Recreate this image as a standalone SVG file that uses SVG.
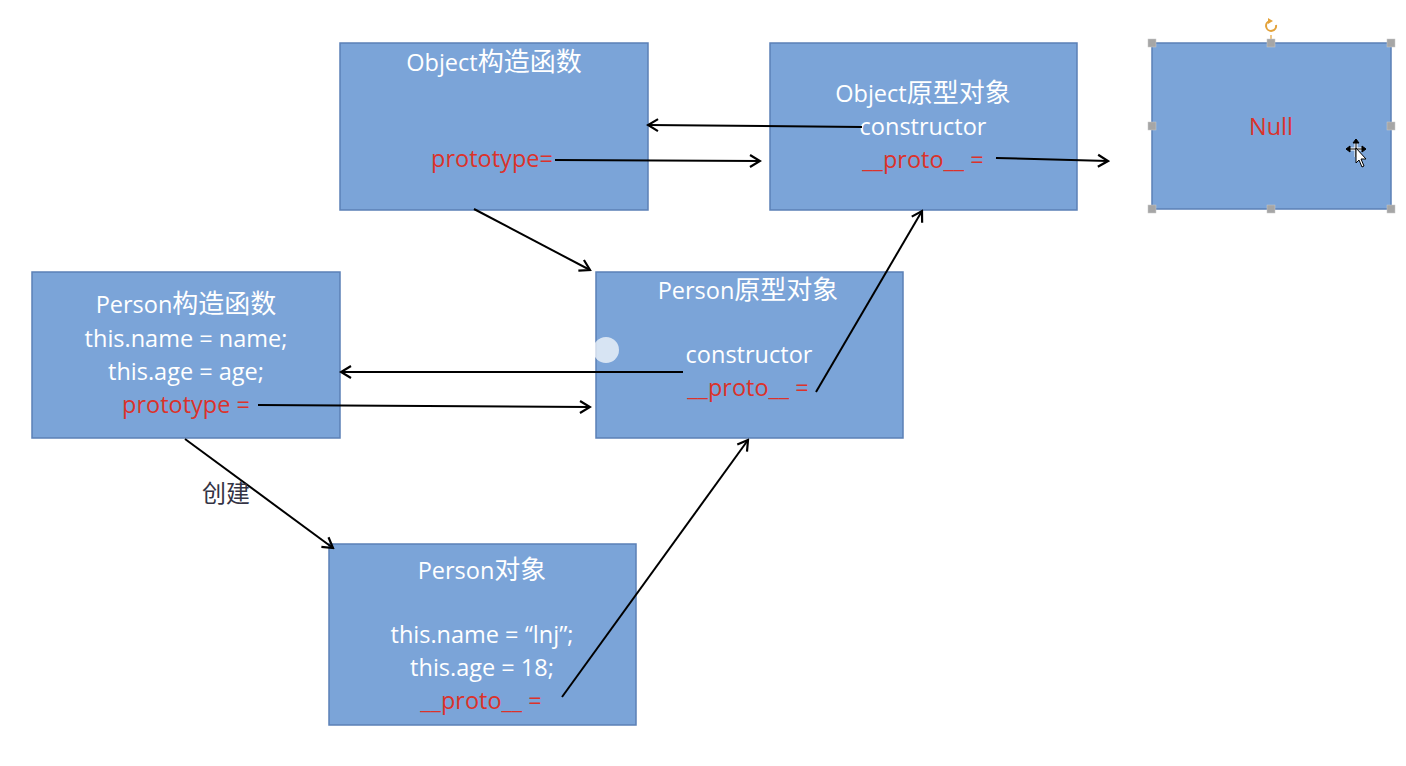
<svg xmlns="http://www.w3.org/2000/svg" width="1406" height="766" viewBox="0 0 1406 766">
  <style>
    .box { fill: #7BA4D8; stroke: #5B80B6; stroke-width: 1.5; }
    .t { font-family: "Open Sans", "Noto Sans CJK SC", sans-serif; font-size: 23.5px; fill: #FFFFFF; text-anchor: middle; }
    .r { fill: #DC322A; }
    .cjk { font-family: "Noto Sans CJK SC", sans-serif; font-size: 26px; }
    .conn { stroke: #000000; stroke-width: 2; fill: none; marker-end: url(#arr); }
    .handle { fill: #A6A6A6; stroke: #C8C8C8; stroke-width: 0.5; }
  </style>
  <defs>
    <marker id="arr" markerUnits="userSpaceOnUse" markerWidth="16" markerHeight="16" viewBox="0 0 16 16" refX="14" refY="8" orient="auto">
      <path d="M4,2 L14,8 L4,14" fill="none" stroke="#000" stroke-width="2.2"/>
    </marker>
  </defs>
  <rect width="1406" height="766" fill="#FFFFFF"/>

  <g id="object-ctor">
    <rect class="box" x="340" y="43" width="308" height="167"/>
    <text class="t" x="494" y="71">Object<tspan class="cjk">构造函数</tspan></text>
    <text class="t r" x="492" y="167">prototype=</text>
  </g>

  <g id="object-proto">
    <rect class="box" x="770" y="43" width="307" height="167"/>
    <text class="t" x="923" y="102">Object<tspan class="cjk">原型对象</tspan></text>
    <text class="t" x="923" y="135">constructor</text>
    <text class="t r" x="923" y="168">__proto__ =</text>
  </g>

  <g id="null">
    <rect class="box" x="1152" y="43" width="239" height="166"/>
    <text class="t r" x="1271" y="135">Null</text>
    <line x1="1271" y1="35" x2="1271" y2="43" stroke="#E3A23A" stroke-width="1.2"/>
    <path d="M1276,25 A5,5 0 1 1 1270,21" fill="none" stroke="#E3A23A" stroke-width="2"/>
    <path d="M1268,18 L1273,21 L1268,24 Z" fill="#E3A23A"/>
    <rect class="handle" x="1148" y="39" width="8" height="8"/>
    <rect class="handle" x="1267" y="39" width="8" height="8"/>
    <rect class="handle" x="1387" y="39" width="8" height="8"/>
    <rect class="handle" x="1148" y="122" width="8" height="8"/>
    <rect class="handle" x="1387" y="122" width="8" height="8"/>
    <rect class="handle" x="1148" y="205" width="8" height="8"/>
    <rect class="handle" x="1267" y="205" width="8" height="8"/>
    <rect class="handle" x="1387" y="205" width="8" height="8"/>
    <g id="cursor" stroke="#000" stroke-width="1">
      <path d="M1348,149 L1364,149 M1356,141 L1356,157" fill="none" stroke="#fff" stroke-width="3"/>
      <path d="M1348,149 L1364,149 M1356,141 L1356,157" fill="none"/>
      <path d="M1346,149 L1350,146 L1350,152 Z M1366,149 L1362,146 L1362,152 Z M1356,139 L1353,143 L1359,143 Z" fill="#000"/>
      <path d="M1356,148 L1356,163 L1359,160 L1362,167 L1364,166 L1361,159 L1366,159 Z" fill="#fff" stroke="#000"/>
    </g>
  </g>

  <g id="person-ctor">
    <rect class="box" x="32" y="272" width="308" height="166"/>
    <text class="t" x="186" y="313">Person<tspan class="cjk">构造函数</tspan></text>
    <text class="t" x="186" y="347">this.name = name;</text>
    <text class="t" x="186" y="380">this.age = age;</text>
    <text class="t r" x="186" y="413">prototype =</text>
  </g>

  <g id="person-proto">
    <rect class="box" x="596" y="272" width="307" height="166"/>
    <text class="t" x="748" y="299">Person<tspan class="cjk">原型对象</tspan></text>
    <circle cx="606" cy="350" r="13" fill="#FFFFFF" fill-opacity="0.7"/>
    <text class="t" x="749" y="363">constructor</text>
    <text class="t r" x="748" y="396">__proto__ =</text>
  </g>

  <g id="person-obj">
    <rect class="box" x="329" y="544" width="307" height="181"/>
    <text class="t" x="482" y="579">Person<tspan class="cjk">对象</tspan></text>
    <text class="t" x="482" y="643">this.name = “lnj”;</text>
    <text class="t" x="482" y="676">this.age = 18;</text>
    <text class="t r" x="481" y="709">__proto__ =</text>
  </g>

  <g id="connectors">
    <line class="conn" x1="862" y1="127" x2="648" y2="125"/>
    <line class="conn" x1="555" y1="160" x2="760" y2="161"/>
    <line class="conn" x1="996" y1="158" x2="1108" y2="161"/>
    <line class="conn" x1="474" y1="209" x2="590" y2="270"/>
    <line class="conn" x1="683" y1="372" x2="341" y2="372"/>
    <line class="conn" x1="258" y1="405" x2="590" y2="407"/>
    <line class="conn" x1="816" y1="392" x2="922" y2="211"/>
    <line class="conn" x1="185" y1="439" x2="333" y2="548"/>
    <line class="conn" x1="562" y1="697" x2="748" y2="440"/>
    <text x="202" y="502" font-family="Noto Sans CJK SC, sans-serif" font-size="24" fill="#333344">创建</text>
  </g>
</svg>
